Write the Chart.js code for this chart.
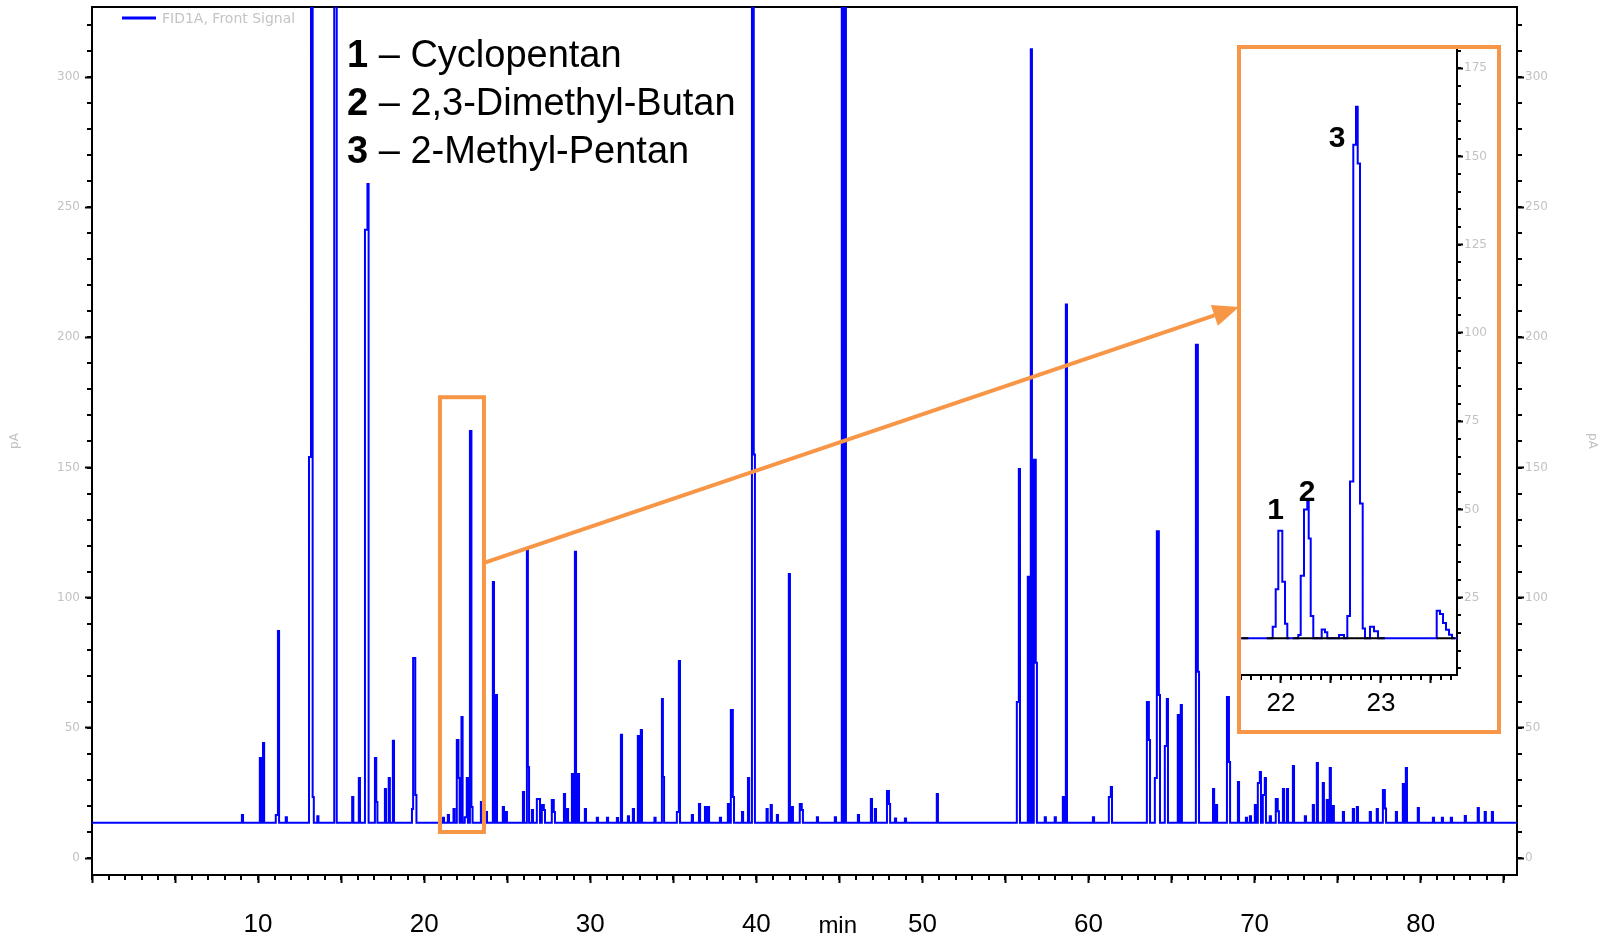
<!DOCTYPE html>
<html><head><meta charset="utf-8">
<script src="https://cdn.jsdelivr.net/npm/chart.js@4.4.1/dist/chart.umd.min.js"></script>
<style>
html,body{margin:0;padding:0;background:#fff;overflow:hidden;}
#wrap{position:relative;width:1603px;height:938px;}
#main{position:absolute;left:0;top:0;width:1603px;height:938px;}
#inset{position:absolute;left:1237px;top:45px;width:264px;height:689px;}
</style></head><body>
<div id="wrap"><canvas id="main" width="1603" height="938"></canvas><canvas id="inset" width="264" height="689"></canvas></div>
<script>
// ---------------- DATA ----------------
const baselineLevel = 13.5;           // pA, detector baseline
const peakWidth = 0.07;               // min
const peakTimes = [
  9.06, 10.14, 10.33, 11.10, 11.23, 11.70, 13.10, 13.22, 13.32, 13.60,
  14.62, 14.70, 15.70, 16.10, 16.47, 16.62, 17.07, 17.15, 17.67, 17.90,
  18.15, 19.30, 19.37, 19.50, 21.16, 21.46, 21.80, 22.00, 22.10, 22.28,
  22.48, 22.60, 22.79, 22.88, 23.45, 23.75, 24.17, 24.35, 24.77, 24.95,
  25.98, 26.22, 26.28, 26.52, 26.82, 26.94, 27.12, 27.24, 27.72, 27.84,
  28.45, 28.63, 28.93, 29.11, 29.29, 29.71, 30.43, 31.04, 31.64, 31.88,
  32.30, 32.60, 32.90, 33.08, 33.90, 34.35, 34.41, 35.25, 35.37, 36.15,
  36.58, 36.94, 37.12, 37.84, 38.32, 38.50, 38.62, 39.17, 39.53, 39.77,
  39.88, 40.65, 40.90, 41.27, 41.99, 42.17, 42.65, 42.77, 43.68, 44.76,
  45.18, 45.36, 46.15, 46.93, 47.17, 47.90, 48.02, 48.38, 48.98, 50.90,
  55.72, 55.84, 56.38, 56.56, 56.74, 56.86, 57.40, 58.00, 58.49, 58.67,
  60.30, 61.26, 61.38, 63.55, 63.67, 64.03, 64.15, 64.27, 64.63, 64.75,
  65.41, 65.59, 66.50, 66.62, 67.53, 67.71, 68.37, 68.49, 69.03, 69.51,
  69.75, 70.05, 70.23, 70.35, 70.53, 70.65, 70.95, 71.31, 71.43, 71.74,
  71.98, 72.34, 73.06, 73.54, 73.78, 74.14, 74.38, 74.56, 74.74, 75.35,
  75.95, 76.19, 76.97, 77.39, 77.76, 77.88, 78.54, 78.96, 79.14, 79.86,
  80.77, 81.31, 81.85, 82.69, 83.47, 83.89, 84.32
];
const peakHeights = [
  16.5, 38.4, 44.2, 16.5, 87.2, 15.7, 154, 400, 23.4, 16,
  400, 400, 23.4, 30.7, 241.3, 258.9, 38.4, 21.5, 26.5, 30.7,
  45, 18.8, 76.8, 24.2, 15.5, 16.5, 18.8, 45.3, 30.7, 54.2,
  15.7, 30.7, 164, 19.6, 21.5, 17.7, 106, 62.6, 19.6, 17.7,
  25.4, 118.4, 35, 18.4, 22.7, 22.7, 20.4, 18.4, 22.3, 17.7,
  24.6, 18.8, 32.3, 117.6, 32.3, 18.8, 15.5, 15.5, 15.4, 47.3,
  16, 18.8, 46.9, 49.2, 15.5, 61.1, 31.1, 17.7, 75.7, 16.5,
  20.7, 19.6, 19.6, 15.5, 20.7, 56.9, 23.4, 17.7, 30.7, 400,
  155, 18.8, 20.4, 16.5, 109.1, 19.6, 20.7, 18.4, 15.7, 15.7,
  400, 400, 16.5, 22.7, 18.8, 25.7, 20.7, 15.2, 15.2, 24.6,
  59.9, 149.4, 108, 310.7, 153, 75, 15.7, 15.7, 23.4, 212.6,
  15.7, 23.4, 27.3, 59.9, 45.3, 30.7, 125.5, 62.6, 43, 61.1,
  54.9, 58.8, 197.2, 71.5, 26.5, 20.4, 61.8, 36.9, 29.2, 15.5,
  16, 20.4, 28.8, 33, 24.2, 30.7, 16, 22.7, 18, 26.5,
  26.5, 35.3, 16, 20.4, 36.5, 28.8, 22.3, 34.6, 20, 17.7,
  18.8, 19.6, 17.7, 18.8, 26.1, 19, 17.7, 28.4, 34.6, 19.2,
  15.5, 15.5, 15.5, 16.1, 19.2, 17.7, 17.7
];
const xRange = [0, 85.8];             // min
const yRange = [-6.53, 326.9];        // pA

// inset (21.6 - 23.76 min) signal: level changes (time -> level from that time on)
const insetTimes = [21.6, 21.917, 21.947, 21.973, 22.013, 22.04, 22.063, 22.173, 22.197, 22.23,
  22.263, 22.277, 22.297, 22.323, 22.407, 22.44, 22.463, 22.58, 22.63, 22.663,
  22.69, 22.723, 22.75, 22.767, 22.79, 22.817, 22.84, 22.89, 22.93, 22.97,
  23.557, 23.59, 23.62, 23.65, 23.68, 23.71, 23.76];
const insetLevels = [13.5, 16.8, 27.4, 44.0, 29.5, 17.6, 13.5, 14.4, 31.2, 50.0,
  52.2, 41.8, 19.8, 13.5, 16.0, 15.2, 13.5, 14.4, 13.5, 19.8,
  57.9, 153.3, 164.1, 148.0, 51.7, 16.3, 13.5, 16.8, 15.5, 13.5,
  21.3, 20.4, 17.8, 15.9, 14.5, 13.5, 13.5];
const integrationStart = [21.607, 21.857, 22.117, 23.557];
const integrationEnd   = [21.673, 22.083, 23.04, 23.74];
const insetXRange = [21.6, 23.76];
const insetYRange = [3.1, 180.45];

const compoundNumbers = ['1', '2', '3'];
const compoundNames = ['Cyclopentan', '2,3-Dimethyl-Butan', '2-Methyl-Pentan'];
const compoundTimes = [21.945, 22.26, 22.56];      // label anchor in inset (min)
const compoundLabelLevels = [47.3, 52.4, 152.7];  // label baseline in inset (pA)
const zoomWindow = {t0: 20.95, t1: 23.6, v0: 10, v1: 177, arrowV: 113.4};
const xTickLabelValues = [10, 20, 30, 40, 50, 60, 70, 80];
const insetTickLabelValues = [22, 23];

// ---------------- BUILD ----------------
function buildSpikes() {
  const pts = [{x: xRange[0], y: baselineLevel}];
  let prevEnd = -Infinity, prevStart = -Infinity;
  for (let i = 0; i < peakTimes.length; i++) {
    let s = peakTimes[i] - peakWidth / 2;
    const e = peakTimes[i] + peakWidth / 2;
    if (s - prevEnd < 0.1 && pts.length > 1) {
      pts.pop();                      // merge with previous peak
      s = Math.max(s, prevStart + 0.01);
    }
    pts.push({x: s, y: peakHeights[i]});
    pts.push({x: e, y: baselineLevel});
    prevEnd = e; prevStart = s;
  }
  pts.push({x: xRange[1], y: baselineLevel});
  return pts;
}
function buildInset() {
  return insetTimes.map((t, i) => ({x: t, y: insetLevels[i]}));
}
function buildIntegration() {
  const pts = [];
  for (let i = 0; i < integrationStart.length; i++) {
    pts.push({x: integrationStart[i], y: baselineLevel});
    pts.push({x: integrationEnd[i], y: baselineLevel});
    const nx = i + 1 < integrationStart.length ? (integrationEnd[i] + integrationStart[i + 1]) / 2 : integrationEnd[i] + 0.001;
    pts.push({x: nx, y: null});
  }
  return pts;
}

// ---------------- PLUGINS ----------------
const minorTicks = {
  id: 'minorTicks',
  afterDraw(chart, args, opts) {
    const ctx = chart.ctx;
    ctx.save();
    ctx.strokeStyle = '#000';
    ctx.lineWidth = 2;
    (opts.list || []).forEach(m => {
      const sc = chart.scales[m.id];
      const k0 = Math.ceil(sc.min / m.step - 1e-9), k1 = Math.floor(sc.max / m.step + 1e-9);
      for (let k = k0; k <= k1; k++) {
        const p = Math.round(sc.getPixelForValue(k * m.step));
        ctx.beginPath();
        if (m.side === 'bottom') { ctx.moveTo(p, sc.top); ctx.lineTo(p, sc.top + m.len); }
        else if (m.side === 'left') { ctx.moveTo(sc.right, p); ctx.lineTo(sc.right - m.len, p); }
        else { ctx.moveTo(sc.left, p); ctx.lineTo(sc.left + m.len, p); }
        ctx.stroke();
      }
    });
    ctx.restore();
  }
};

const ORANGE = '#f79646';
const mainDecor = {
  id: 'mainDecor',
  afterDraw(chart) {
    const ctx = chart.ctx, xs = chart.scales.x, ys = chart.scales.y;
    const ds = chart.data.datasets[0];
    ctx.save();
    // legend inside plot
    ctx.strokeStyle = ds.borderColor; ctx.lineWidth = 3;
    ctx.beginPath(); ctx.moveTo(122, 18); ctx.lineTo(156, 18); ctx.stroke();
    ctx.fillStyle = '#c4c4c4'; ctx.font = '14px "DejaVu Sans"';
    ctx.textAlign = 'left'; ctx.textBaseline = 'middle';
    ctx.fillText(ds.label, 162, 19);
    // compound list
    ctx.textBaseline = 'alphabetic'; ctx.fillStyle = '#000';
    compoundNumbers.forEach((n, i) => {
      const y = 67 + 48 * i;
      ctx.font = 'bold 38px "Liberation Sans"';
      ctx.fillText(n, 347, y);
      const w = ctx.measureText(n).width;
      ctx.font = '38px "Liberation Sans"';
      ctx.fillText(' \u2013 ' + compoundNames[i], 347 + w, y);
    });
    // "min" axis label
    ctx.font = '24px "Liberation Sans"'; ctx.textAlign = 'center';
    ctx.fillText('min', xs.getPixelForValue(44.9), 933);
    // zoom window box
    const bx0 = xs.getPixelForValue(zoomWindow.t0), bx1 = xs.getPixelForValue(zoomWindow.t1);
    const by0 = ys.getPixelForValue(zoomWindow.v1), by1 = ys.getPixelForValue(zoomWindow.v0);
    ctx.strokeStyle = ORANGE; ctx.lineWidth = 4; ctx.lineJoin = 'miter';
    ctx.strokeRect(bx0, by0, bx1 - bx0, by1 - by0);
    // arrow to inset
    const ax = bx1, ay = ys.getPixelForValue(zoomWindow.arrowV);
    const tx = 1239, ty = 307;
    const ang = Math.atan2(ty - ay, tx - ax);
    const hl = 26, hw = 11;
    const bxh = tx - hl * Math.cos(ang), byh = ty - hl * Math.sin(ang);
    ctx.beginPath(); ctx.moveTo(ax, ay); ctx.lineTo(bxh, byh); ctx.stroke();
    ctx.fillStyle = ORANGE;
    ctx.beginPath();
    ctx.moveTo(tx, ty);
    ctx.lineTo(bxh + hw * Math.sin(ang), byh - hw * Math.cos(ang));
    ctx.lineTo(bxh - hw * Math.sin(ang), byh + hw * Math.cos(ang));
    ctx.closePath(); ctx.fill();
    ctx.restore();
  }
};

const insetDecor = {
  id: 'insetDecor',
  beforeDraw(chart) {
    const ctx = chart.ctx;
    ctx.save(); ctx.fillStyle = '#fff'; ctx.fillRect(0, 0, chart.width, chart.height); ctx.restore();
  },
  afterDraw(chart) {
    const ctx = chart.ctx, xs = chart.scales.x, ys = chart.scales.y;
    ctx.save();
    ctx.fillStyle = '#000'; ctx.font = 'bold 30px "Liberation Sans"';
    ctx.textAlign = 'center'; ctx.textBaseline = 'alphabetic';
    compoundNumbers.forEach((n, i) => {
      ctx.fillText(n, xs.getPixelForValue(compoundTimes[i]), ys.getPixelForValue(compoundLabelLevels[i]));
    });
    ctx.strokeStyle = ORANGE; ctx.lineWidth = 4;
    ctx.strokeRect(2, 2, chart.width - 4, chart.height - 4);
    ctx.restore();
  }
};

Chart.defaults.font.family = '"Liberation Sans", Arial, sans-serif';
const grayTick = {family: '"DejaVu Sans"', size: 12};
const axisBorder = {display: true, color: '#000', width: 2};
function fixSize(w, h) {
  return function (s) {
    if (w !== null) s.width = w;
    if (h !== null) s.height = h;
    s.paddingTop = 0; s.paddingBottom = 0; s.paddingLeft = 0; s.paddingRight = 0;
  };
}

// ---------------- MAIN CHART ----------------
new Chart(document.getElementById('main'), {
  type: 'line',
  data: {datasets: [{
    label: 'FID1A, Front Signal', data: buildSpikes(), parsing: false,
    borderColor: '#0000ff', borderWidth: 2, pointRadius: 0, fill: false, stepped: true, tension: 0
  }]},
  options: {
    responsive: false, animation: false, events: [],
    layout: {padding: 0, autoPadding: false},
    plugins: {legend: {display: false}, tooltip: {enabled: false},
      minorTicks: {list: [
        {id: 'x', step: 1, len: 5, side: 'bottom'},
        {id: 'y', step: 10, len: 5, side: 'left'},
        {id: 'y2', step: 10, len: 5, side: 'right'}]}},
    scales: {
      x: {type: 'linear', position: 'bottom', min: xRange[0], max: xRange[1],
        afterFit: fixSize(null, 63),
        ticks: {stepSize: 5, autoSkip: false, includeBounds: false, maxRotation: 0, padding: 26, color: '#000',
          font: {family: '"Liberation Sans"', size: 26},
          callback: v => xTickLabelValues.includes(Math.round(v)) && Math.abs(v - Math.round(v)) < 1e-6 ? String(Math.round(v)) : ''},
        grid: {display: true, drawOnChartArea: false, drawTicks: true, tickLength: 8, tickWidth: 2, tickColor: '#000'},
        border: axisBorder},
      xTop: {type: 'linear', position: 'top', min: xRange[0], max: xRange[1],
        afterFit: fixSize(null, 7), ticks: {display: false}, grid: {display: false}, border: axisBorder},
      y: {type: 'linear', position: 'left', min: yRange[0], max: yRange[1],
        afterFit: fixSize(92, null),
        ticks: {stepSize: 50, autoSkip: false, includeBounds: false, padding: 5, color: '#c2c2c2', font: grayTick},
        grid: {display: true, drawOnChartArea: false, drawTicks: true, tickLength: 7, tickWidth: 2, tickColor: '#000'},
        border: axisBorder,
        title: {display: true, text: 'pA', color: '#c2c2c2', font: grayTick, padding: {top: 8, bottom: 0}}},
      y2: {type: 'linear', position: 'right', min: yRange[0], max: yRange[1],
        afterFit: fixSize(86, null),
        ticks: {stepSize: 50, autoSkip: false, includeBounds: false, padding: 1, color: '#c2c2c2', font: grayTick},
        grid: {display: true, drawOnChartArea: false, drawTicks: true, tickLength: 7, tickWidth: 2, tickColor: '#000'},
        border: axisBorder,
        title: {display: true, text: 'pA', color: '#c2c2c2', font: grayTick, padding: {top: 4, bottom: 0}}}
    }
  },
  plugins: [minorTicks, mainDecor]
});

// ---------------- INSET CHART ----------------
new Chart(document.getElementById('inset'), {
  type: 'line',
  data: {datasets: [
    {label: 'integration baseline', data: buildIntegration(), parsing: false, borderColor: '#000', borderWidth: 2,
      pointRadius: 0, fill: false, spanGaps: false},
    {label: 'FID1A, Front Signal', data: buildInset(), parsing: false, borderColor: '#0000ff', borderWidth: 2,
      pointRadius: 0, fill: false, stepped: true}
  ]},
  options: {
    responsive: false, animation: false, events: [],
    layout: {padding: {left: 4, top: 4, right: 0, bottom: 0}, autoPadding: false},
    plugins: {legend: {display: false}, tooltip: {enabled: false},
      minorTicks: {list: [
        {id: 'x', step: 0.1, len: 5, side: 'bottom'},
        {id: 'y', step: 5, len: 4, side: 'right'}]}},
    scales: {
      x: {type: 'linear', position: 'bottom', min: insetXRange[0], max: insetXRange[1],
        afterFit: fixSize(null, 59),
        ticks: {stepSize: 0.5, autoSkip: false, includeBounds: false, maxRotation: 0, padding: 5, color: '#000',
          font: {family: '"Liberation Sans"', size: 26},
          callback: v => (Math.abs(v - Math.round(v)) < 1e-6 && insetTickLabelValues.includes(Math.round(v))) ? String(Math.round(v)) : ''},
        grid: {display: true, drawOnChartArea: false, drawTicks: true, tickLength: 8, tickWidth: 2, tickColor: '#000'},
        border: axisBorder},
      y: {type: 'linear', position: 'right', min: insetYRange[0], max: insetYRange[1],
        afterFit: fixSize(44, null),
        ticks: {stepSize: 25, autoSkip: false, includeBounds: false, padding: 1, color: '#c2c2c2', font: grayTick},
        grid: {display: true, drawOnChartArea: false, drawTicks: true, tickLength: 6, tickWidth: 2, tickColor: '#000'},
        border: axisBorder}
    }
  },
  plugins: [minorTicks, insetDecor]
});
</script>
</body></html>
